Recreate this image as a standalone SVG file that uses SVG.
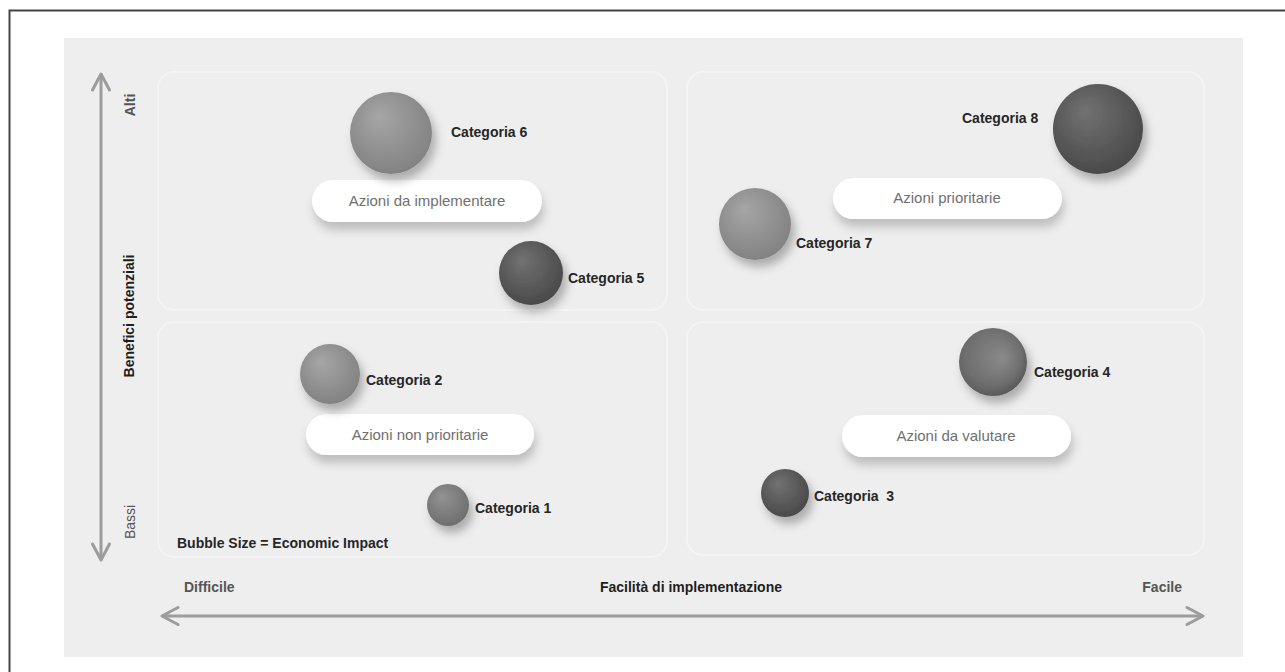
<svg xmlns="http://www.w3.org/2000/svg" width="1285" height="672" viewBox="0 0 1285 672">
  <defs>
    <style>
      .panel { fill: #eeeeee; }
      .quad { fill: #eeeeee; stroke: #f4f4f4; stroke-width: 2; }
      .pill { fill: #ffffff; filter: url(#pillShadow); }
      .pilltxt { font-family: "Liberation Sans", Arial, sans-serif; font-size: 15px; fill: #707070; text-anchor: middle; }
      .lbl { font-family: "Liberation Sans", Arial, sans-serif; font-size: 14px; font-weight: bold; fill: #262626; }
      .axis { stroke: #9c9c9c; stroke-width: 3; fill: none; }
      .axtitle { font-family: "Liberation Sans", Arial, sans-serif; font-size: 14px; font-weight: bold; fill: #1e1e1e; }
      .axend { font-family: "Liberation Sans", Arial, sans-serif; font-size: 14px; fill: #555555; }
    </style>
    <filter id="bubShadow" x="-40%" y="-40%" width="190%" height="190%">
      <feDropShadow dx="4" dy="7" stdDeviation="5" flood-color="#000" flood-opacity="0.28"/>
    </filter>
    <filter id="pillShadow" x="-20%" y="-50%" width="140%" height="220%">
      <feDropShadow dx="2" dy="8" stdDeviation="5" flood-color="#000" flood-opacity="0.2"/>
    </filter>
    <radialGradient id="gLight" cx="0.45" cy="0.4" r="0.65" fx="0.35" fy="0.3">
      <stop offset="0" stop-color="#a6a6a6"/>
      <stop offset="1" stop-color="#808080"/>
    </radialGradient>
    <radialGradient id="gMid" cx="0.45" cy="0.4" r="0.65" fx="0.35" fy="0.3">
      <stop offset="0" stop-color="#939393"/>
      <stop offset="1" stop-color="#6c6c6c"/>
    </radialGradient>
    <radialGradient id="gDark" cx="0.45" cy="0.4" r="0.65" fx="0.35" fy="0.3">
      <stop offset="0" stop-color="#727272"/>
      <stop offset="1" stop-color="#474747"/>
    </radialGradient>
    <radialGradient id="gMidDark" cx="0.4" cy="0.4" r="0.7" fx="0.65" fy="0.45">
      <stop offset="0" stop-color="#8a8a8a"/>
      <stop offset="0.6" stop-color="#6e6e6e"/>
      <stop offset="1" stop-color="#4e4e4e"/>
    </radialGradient>
    <marker id="chev" markerUnits="userSpaceOnUse" markerWidth="24" markerHeight="24" viewBox="-20 -12 24 24" refX="0" refY="0" orient="auto-start-reverse">
      <path d="M-16,-8.5 L0,0 L-16,8.5" fill="none" stroke="#9c9c9c" stroke-width="3" stroke-linejoin="round" stroke-linecap="round"/>
    </marker>
  </defs>

  <rect x="0" y="0" width="1285" height="672" fill="#ffffff"/>
  <rect x="9.5" y="10.5" width="1290" height="680" fill="none" stroke="#444444" stroke-width="2"/>
  <rect class="panel" x="64" y="38" width="1179" height="619"/>

  <g id="quadrants">
    <rect id="q-top-left" class="quad" x="158" y="72" width="509" height="238" rx="16"/>
    <rect id="q-top-right" class="quad" x="687" y="72" width="517" height="238" rx="16"/>
    <rect id="q-bottom-left" class="quad" x="158" y="322" width="509" height="235" rx="16"/>
    <rect id="q-bottom-right" class="quad" x="687" y="322" width="517" height="233" rx="16"/>
  </g>

  <g id="connectors">
    <line class="axis" x1="101" y1="74" x2="101" y2="560" marker-start="url(#chev)" marker-end="url(#chev)"/>
    <line class="axis" x1="162" y1="616" x2="1203" y2="616" marker-start="url(#chev)" marker-end="url(#chev)"/>
  </g>

  <g id="axis-labels">
    <text class="axend" transform="translate(135,105) rotate(-90)" text-anchor="middle" font-weight="bold" fill="#333">Alti</text>
    <text class="axtitle" transform="translate(134,316) rotate(-90)" text-anchor="middle" font-size="13">Benefici potenziali</text>
    <text class="axend" transform="translate(135,522) rotate(-90)" text-anchor="middle" fill="#3a3a3a">Bassi</text>
    <text class="axend" x="184" y="592" font-weight="bold" fill="#555">Difficile</text>
    <text class="axtitle" x="691" y="592" text-anchor="middle">Facilità di implementazione</text>
    <text class="axend" x="1182" y="592" text-anchor="end" font-weight="bold" fill="#555">Facile</text>
    <text class="lbl" x="177" y="548" fill="#111">Bubble Size = Economic Impact</text>
  </g>

  <g id="pill-implementare">
    <rect class="pill" x="312" y="180" width="230" height="42" rx="21"/>
    <text class="pilltxt" x="427" y="206">Azioni da implementare</text>
  </g>
  <g id="pill-prioritarie">
    <rect class="pill" x="833" y="178" width="229" height="41" rx="20.5"/>
    <text class="pilltxt" x="947" y="203">Azioni prioritarie</text>
  </g>
  <g id="pill-non-prioritarie">
    <rect class="pill" x="306" y="414" width="228" height="41" rx="20.5"/>
    <text class="pilltxt" x="420" y="440">Azioni non prioritarie</text>
  </g>
  <g id="pill-valutare">
    <rect class="pill" x="842" y="415" width="229" height="42" rx="21"/>
    <text class="pilltxt" x="956" y="441">Azioni da valutare</text>
  </g>

  <g id="cat6">
    <circle cx="391" cy="133" r="41" fill="url(#gLight)" filter="url(#bubShadow)"/>
    <text class="lbl" x="451" y="137">Categoria 6</text>
  </g>
  <g id="cat5">
    <circle cx="531" cy="273" r="32" fill="url(#gDark)" filter="url(#bubShadow)"/>
    <text class="lbl" x="568" y="283">Categoria 5</text>
  </g>
  <g id="cat8">
    <circle cx="1098" cy="129" r="45" fill="url(#gDark)" filter="url(#bubShadow)"/>
    <text class="lbl" x="962" y="123">Categoria 8</text>
  </g>
  <g id="cat7">
    <circle cx="755" cy="224" r="36" fill="url(#gLight)" filter="url(#bubShadow)"/>
    <text class="lbl" x="796" y="248">Categoria 7</text>
  </g>
  <g id="cat2">
    <circle cx="330" cy="374" r="30" fill="url(#gLight)" filter="url(#bubShadow)"/>
    <text class="lbl" x="366" y="385">Categoria 2</text>
  </g>
  <g id="cat1">
    <circle cx="448" cy="505" r="21" fill="url(#gMid)" filter="url(#bubShadow)"/>
    <text class="lbl" x="475" y="513">Categoria 1</text>
  </g>
  <g id="cat4">
    <circle cx="993" cy="362" r="34" fill="url(#gMidDark)" filter="url(#bubShadow)"/>
    <text class="lbl" x="1034" y="377">Categoria 4</text>
  </g>
  <g id="cat3">
    <circle cx="785" cy="493" r="24" fill="url(#gDark)" filter="url(#bubShadow)"/>
    <text class="lbl" x="814" y="501" xml:space="preserve">Categoria  3</text>
  </g>
</svg>
